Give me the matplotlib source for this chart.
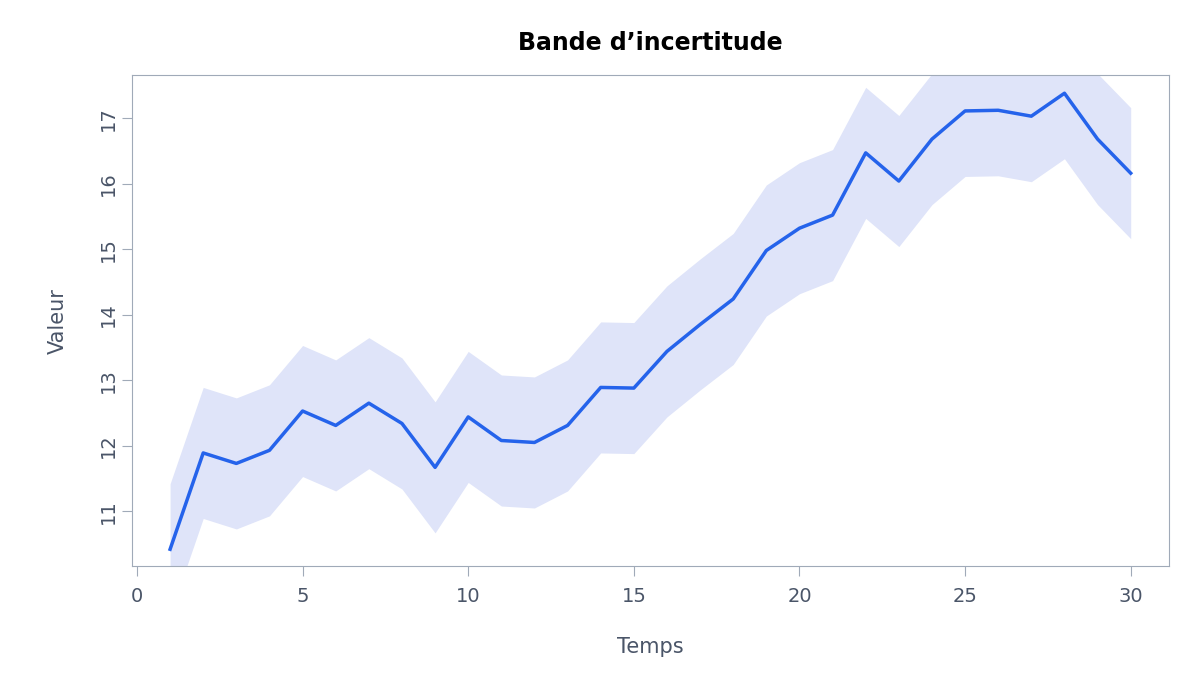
import matplotlib.pyplot as plt
import numpy as np

temps = list(range(1, 31))
valeur = [10.42, 11.89, 11.73, 11.93, 12.53, 12.31, 12.65, 12.34, 11.67, 12.44,
          12.08, 12.05, 12.31, 12.89, 12.88, 13.44, 13.85, 14.24, 14.98, 15.32,
          15.52, 16.47, 16.04, 16.68, 17.11, 17.12, 17.03, 17.38, 16.68, 16.16]
ecart = [1.0] * 30

v = np.array(valeur)
e = np.array(ecart)

gray = '#4a5568'
edge = '#a0aab8'

fig = plt.figure(figsize=(12, 7), dpi=100)
ax = fig.add_axes([0.11, 0.191, 0.864, 0.702])
ax.fill_between(temps, v - e, v + e, color='#dfe4f9', linewidth=0)
ax.plot(temps, v, color='#2563eb', linewidth=2.5)

ax.set_xlim(-0.15, 31.15)
ax.set_ylim(10.16, 17.66)
ax.set_xticks([0, 5, 10, 15, 20, 25, 30])
ax.set_yticks([11, 12, 13, 14, 15, 16, 17])
for s in ax.spines.values():
    s.set_color(edge)
ax.tick_params(colors=edge, labelcolor=gray, labelsize=14, length=7)
ax.tick_params(axis='x', pad=8)
for lbl in ax.get_yticklabels():
    lbl.set_rotation(90)
    lbl.set_va('center')

ax.set_xlabel('Temps', fontsize=15, color=gray, labelpad=22)
ax.set_ylabel('Valeur', fontsize=15, color=gray, labelpad=22)
ax.set_title('Bande d\u2019incertitude', fontsize=17, fontweight='bold', pad=18)

fig.savefig('out.png', dpi=100)
